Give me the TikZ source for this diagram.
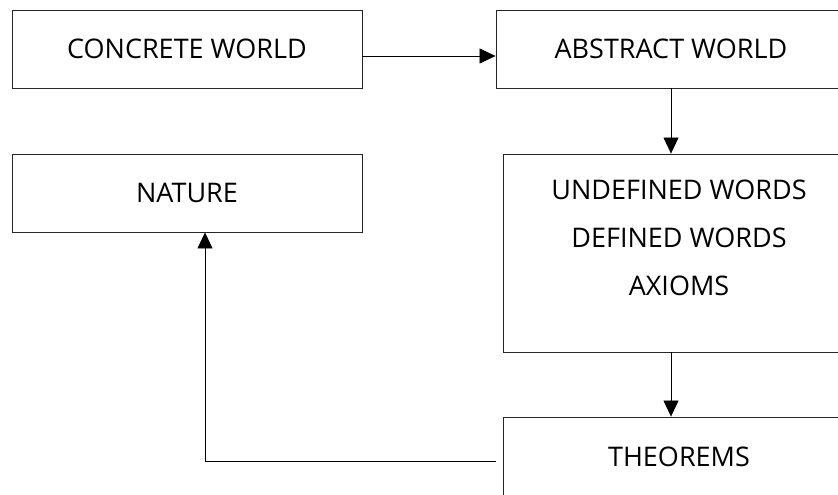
\documentclass[tikz,border=0pt]{standalone}
\usepackage{fontspec}
\setmainfont{Open Sans}
\usepackage{tikz}
\usetikzlibrary{calc,arrows.meta}

\begin{document}
\begin{tikzpicture}[x=1pt,y=1pt,
    box/.style={draw=black!85,line width=0.9pt,inner sep=0pt,
                minimum width=350pt,minimum height=78pt},
    lbl/.style={font=\fontsize{27}{48}\selectfont,align=center,inner sep=0pt},
    link/.style={draw=black,line width=0.6pt,-{Triangle[width=15pt,length=16pt]}}]
                \useasboundingbox (0,0) rectangle (838,-495);
                % left column
                \node [box,lbl] (cw) at (187,-49) {CONCRETE WORLD};
                \node [box,lbl] (nat) at (187,-193) {NATURE};
                % right column
                \node [box,lbl] (aw) at (671,-49) {ABSTRACT WORLD};
                \node [box,minimum width=352pt,minimum height=198pt] (defs) at (679,-253) {};
                \node [lbl,anchor=north] (deftext) at ($(defs.north)+(0,-26)$)
                      {UNDEFINED WORDS\\DEFINED WORDS\\AXIOMS};
                \node [box,lbl,minimum width=352pt,minimum height=80pt] (thm) at (679,-457) {THEOREMS};
                % arrows
                \draw [link] ([yshift=-7pt]cw.east) -- ([yshift=-7pt]aw.west);
                \draw [link] (aw.south) -- (aw.south |- defs.north);
                \draw [link] (aw.south |- defs.south) -- (aw.south |- thm.north);
                \draw [link] ([shift={(-7pt,-4pt)}]thm.west) -| ([xshift=18pt]nat.south);
\end{tikzpicture}
\end{document}
